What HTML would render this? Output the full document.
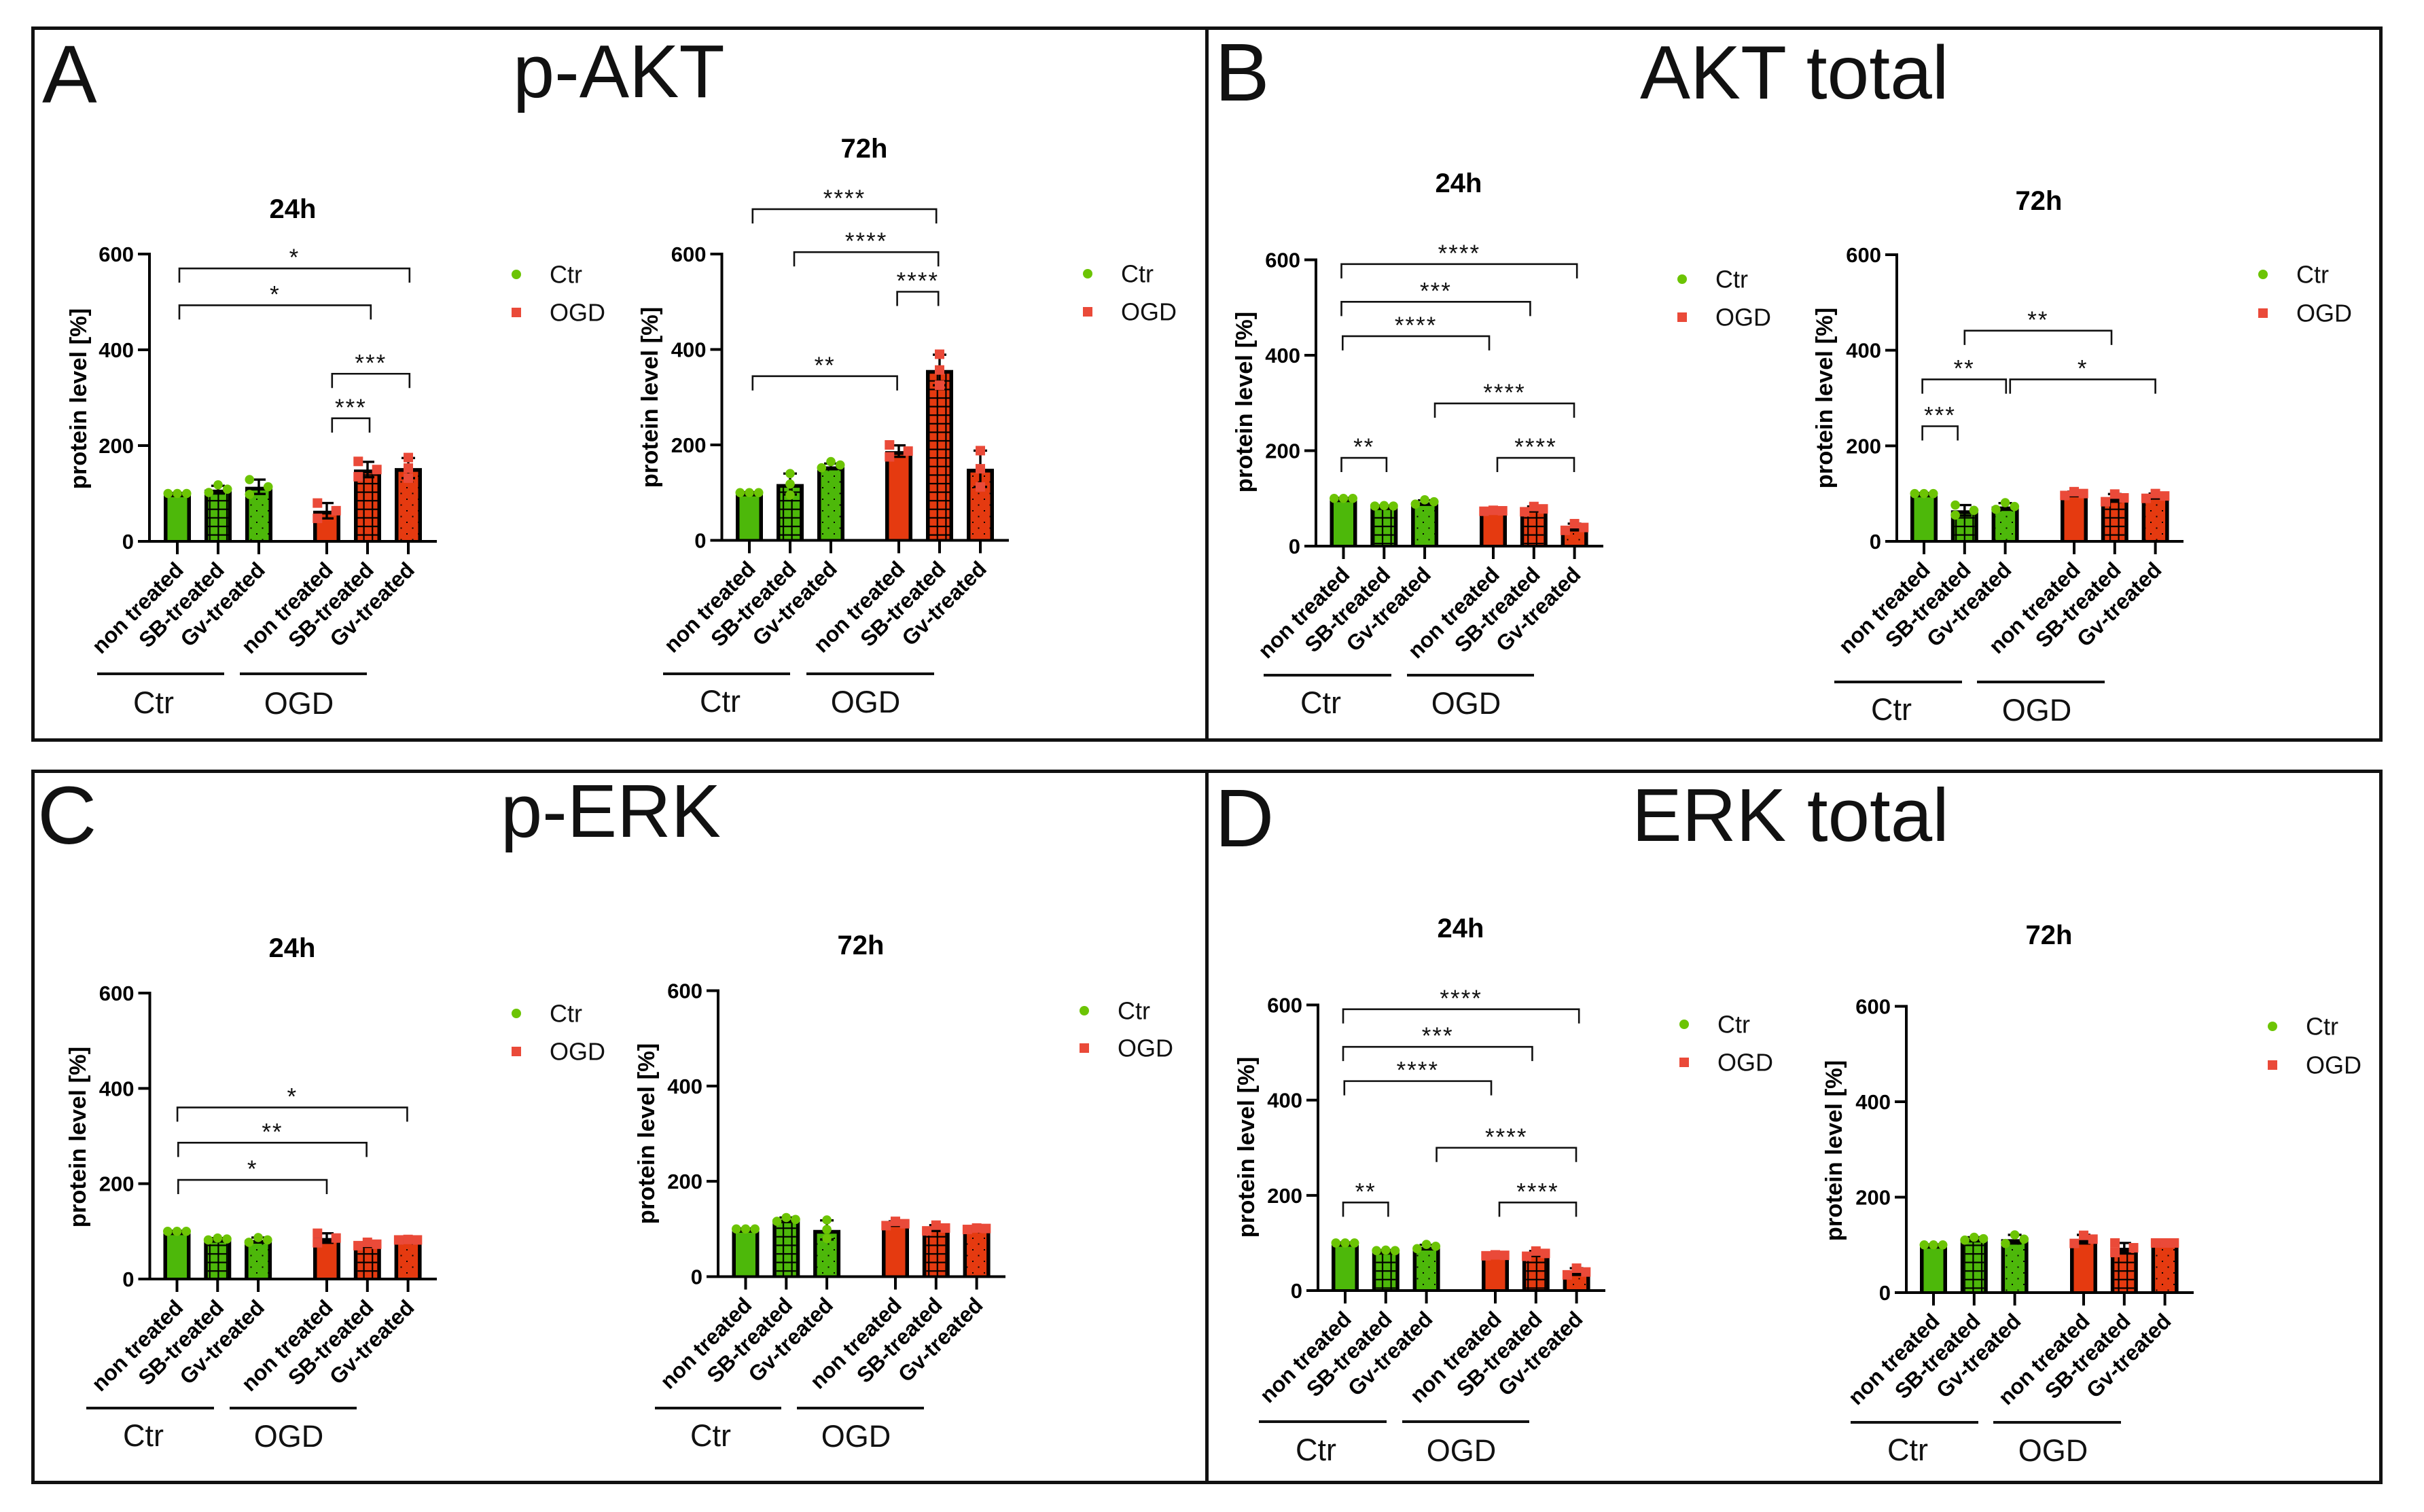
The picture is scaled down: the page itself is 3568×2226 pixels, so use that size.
<!DOCTYPE html>
<html lang="en">
<head>
<meta charset="utf-8">
<title>Protein levels: p-AKT, AKT total, p-ERK, ERK total</title>
<style>
html,body{margin:0;padding:0;background:#fff;width:3568px;height:2226px;overflow:hidden}
svg{display:block;font-family:"Liberation Sans",Arial,sans-serif}
</style>
</head>
<body>
<svg id="figure" xmlns="http://www.w3.org/2000/svg" width="3568" height="2226" viewBox="0 0 3568 2226">
  <defs>
    <pattern id="grid" patternUnits="userSpaceOnUse" width="12.6" height="12.6">
      <rect x="0" y="5.3" width="12.6" height="2.2" fill="#000"/>
      <rect x="5.3" y="0" width="2.2" height="12.6" fill="#000"/>
    </pattern>
    <pattern id="dots" patternUnits="userSpaceOnUse" width="17" height="17">
      <rect x="3" y="3" width="2" height="2" fill="#000"/>
      <rect x="11.5" y="11.5" width="2" height="2" fill="#000"/>
    </pattern>
  </defs>
  <rect width="3568" height="2226" fill="#fff"/>

  <rect x="48.5" y="41.5" width="3456" height="1048" fill="none" stroke="#111" stroke-width="5"/>
  <line x1="1776.5" y1="41" x2="1776.5" y2="1090" stroke="#111" stroke-width="5"/>
  <rect x="48.5" y="1135.5" width="3456" height="1047" fill="none" stroke="#111" stroke-width="5"/>
  <line x1="1776.5" y1="1135" x2="1776.5" y2="2183" stroke="#111" stroke-width="5"/>

  <text x="62" y="151" font-size="121" fill="#111">A</text>
  <text x="755" y="143" font-size="110" fill="#111">p-AKT</text>
  <text x="1788" y="148" font-size="121" fill="#111">B</text>
  <text x="2414" y="145" font-size="111" fill="#111">AKT total</text>
  <text x="55" y="1242" font-size="121" fill="#111">C</text>
  <text x="737" y="1232" font-size="110" fill="#111">p-ERK</text>
  <text x="1788" y="1246" font-size="121" fill="#111">D</text>
  <text x="2402" y="1238" font-size="110.5" fill="#111">ERK total</text>

  <g id="charts"></g>
</svg>

<script>
// ---- shared labels ----
const categories = ['non treated', 'SB-treated', 'Gv-treated', 'non treated', 'SB-treated', 'Gv-treated'];
const yTicks = [0, 200, 400, 600];
const legendLabels = ['Ctr', 'OGD'];
const yAxisTitle = 'protein level [%]';

// ---- p-AKT 24h ----
const pAkt24Means = [100, 108, 114, 64, 150, 153];
const pAkt24Sd = [1, 8, 15, 16, 16, 21];
const pAkt24Points = [[100, 100, 100], [102, 109, 118], [98, 114, 129], [48, 64, 80], [135, 150, 167], [132, 153, 175]];
const pAkt24Brackets = [
  {from: 0.05, to: 5.03, level: 570, label: '*'},
  {from: 0.05, to: 4.08, level: 493, label: '*'},
  {from: 3.13, to: 5.03, level: 350, label: '***'},
  {from: 3.13, to: 4.05, level: 257, label: '***'}
];

// ---- p-AKT 72h ----
const pAkt72Means = [100, 118, 155, 187, 357, 150];
const pAkt72Sd = [1, 22, 6, 12, 32, 38];
const pAkt72Points = [[100, 100, 100], [95, 118, 140], [152, 158, 165], [175, 187, 200], [325, 357, 390], [112, 150, 188]];
const pAkt72Brackets = [
  {from: 0.08, to: 3.92, level: 694, label: '****'},
  {from: 1.1, to: 3.97, level: 604, label: '****'},
  {from: 2.96, to: 3.97, level: 521, label: '****'},
  {from: 0.08, to: 2.96, level: 344, label: '**'}
];

// ---- AKT total 24h ----
const akt24Means = [100, 84, 92, 74, 78, 40];
const akt24Sd = [1, 1, 4, 1, 5, 7];
const akt24Points = [[100, 100, 100], [84, 84, 85], [88, 93, 97], [73, 74, 75], [72, 78, 83], [33, 39, 47]];
const akt24Brackets = [
  {from: -0.05, to: 5.06, level: 591, label: '****'},
  {from: -0.05, to: 3.91, level: 512, label: '***'},
  {from: -0.02, to: 2.9, level: 440, label: '****'},
  {from: 2.25, to: 4.99, level: 299, label: '****'},
  {from: 3.1, to: 4.99, level: 185, label: '****'},
  {from: -0.05, to: 1.06, level: 185, label: '**'}
];

// ---- AKT total 72h ----
const akt72Means = [100, 65, 73, 100, 91, 95];
const akt72Sd = [1, 11, 7, 4, 8, 5];
const akt72Points = [[100, 100, 100], [55, 65, 76], [67, 73, 81], [96, 100, 104], [83, 91, 99], [90, 95, 100]];
const akt72Brackets = [
  {from: 1, to: 3.92, level: 441, label: '**'},
  {from: -0.04, to: 2.02, level: 339, label: '**'},
  {from: 2.12, to: 5, level: 339, label: '*'},
  {from: -0.04, to: 0.83, level: 241, label: '***'}
];

// ---- p-ERK 24h ----
const pErk24Means = [100, 84, 82, 86, 73, 83];
const pErk24Sd = [1, 2, 5, 10, 4, 1];
const pErk24Points = [[100, 100, 100], [82, 84, 86], [77, 82, 87], [76, 86, 96], [70, 73, 77], [82, 82, 83]];
const pErk24Brackets = [
  {from: 0.01, to: 4.98, level: 360, label: '*'},
  {from: 0.03, to: 3.98, level: 286, label: '**'},
  {from: 0.03, to: 3, level: 208, label: '*'}
];

// ---- p-ERK 72h ----
const pErk72Means = [100, 120, 98, 112, 102, 101];
const pErk72Sd = [1, 4, 20, 4, 6, 1];
const pErk72Points = [[100, 100, 100], [116, 120, 124], [80, 99, 119], [107, 111, 116], [96, 102, 108], [99, 101, 102]];
const pErk72Brackets = [];

// ---- ERK total 24h ----
const erk24Means = [100, 84, 92, 74, 78, 40];
const erk24Sd = [1, 1, 4, 1, 5, 7];
const erk24Points = [[100, 100, 100], [84, 84, 85], [88, 93, 97], [73, 74, 75], [72, 78, 83], [33, 39, 47]];
const erk24Brackets = [
  {from: -0.05, to: 5.06, level: 591, label: '****'},
  {from: -0.05, to: 3.91, level: 512, label: '***'},
  {from: -0.02, to: 2.9, level: 440, label: '****'},
  {from: 2.25, to: 4.99, level: 300, label: '****'},
  {from: 3.1, to: 4.99, level: 185, label: '****'},
  {from: -0.05, to: 1.06, level: 185, label: '**'}
];

// ---- ERK total 72h ----
const erk72Means = [100, 113, 112, 112, 94, 104];
const erk72Sd = [1, 3, 9, 9, 10, 1];
const erk72Points = [[100, 100, 100], [110, 113, 116], [103, 112, 121], [103, 112, 120], [84, 94, 104], [104, 104, 104]];
const erk72Brackets = [];

const SVG_NS = 'http://www.w3.org/2000/svg';
const root = document.getElementById('charts');
const GREEN_BAR = '#4db80a', RED_BAR = '#e53a10', GREEN_DOT = '#6cc404', RED_DOT = '#ea4a39', INK = '#000';

function add(parent, tag, attrs, text) {
  const el = document.createElementNS(SVG_NS, tag);
  for (const k in attrs) el.setAttribute(k, attrs[k]);
  if (text !== undefined) el.textContent = text;
  parent.appendChild(el);
  return el;
}

// Prism-style scatter dispersion: stacked when points are far apart, else spread sideways.
function spread(values) {
  const order = values.map((v, i) => [v, i]).sort((a, b) => a[0] - b[0]);
  const gapA = order[1][0] - order[0][0], gapB = order[2][0] - order[1][0];
  const maxGap = Math.max(gapA, gapB);
  let slots;
  if (maxGap >= 20) slots = [0, 0, 0];
  else if (maxGap >= 10) slots = [-1, 1, -1];
  else slots = gapA === 0 && gapB === 0 ? [-1, 0, 1] : [-1, 1, 0];
  const out = [];
  order.forEach((o, rank) => { out[o[1]] = slots[rank]; });
  return out;
}

function drawChart(c) {
  const L = c.layout;
  const yScale = v => L.base - (v / 600) * (L.base - L.top);
  const xScale = i => i >= 2.5 ? L.ogdX + (i - 3) * L.step : L.x0 + i * L.step;

  const g = add(root, 'g', {});
  
  

  const title = add(g, 'text', {x: L.titleX, y: L.titleY, 'text-anchor': 'middle', 'font-size': 40, 'font-weight': 'bold', fill: '#000'}, c.title);
  
  

  const yTitle = add(g, 'text', {transform: 'translate(' + (L.yTitleX + 11) + ' ' + L.yTitleY + ') rotate(-90)', 'text-anchor': 'middle', 'font-size': 34.5, 'font-weight': 'bold', fill: '#000'}, yAxisTitle);
  
  

  // bars
  c.means.forEach((m, i) => {
    const cx = xScale(i), w = 40, b = 5.5, top = yScale(m);
    const col = i < 3 ? GREEN_BAR : RED_BAR;
    const outer = add(g, 'rect', {x: cx - w / 2, y: top, width: w, height: L.base - top, fill: INK});
    
    
    const innerH = Math.max(0, L.base - top - b - 1);
    const inner = add(g, 'rect', {x: cx - w / 2 + b, y: top + b, width: w - 2 * b, height: innerH, fill: col});
    
    
    const kind = i % 3;
    if (kind > 0) {
      const tex = add(g, 'rect', {x: cx - w / 2 + b, y: top + b, width: w - 2 * b, height: innerH, fill: kind === 1 ? 'url(#grid)' : 'url(#dots)'});
      
      
    }
  });

  // error bars
  c.means.forEach((m, i) => {
    const cx = xScale(i), hi = yScale(m + c.sd[i]), lo = yScale(m - c.sd[i]);
    const err = add(g, 'path', {d: 'M' + (cx - 10) + ' ' + hi + 'H' + (cx + 10) + 'M' + (cx - 10) + ' ' + lo + 'H' + (cx + 10) + 'M' + cx + ' ' + hi + 'V' + lo, fill: 'none', stroke: INK, 'stroke-width': 3.4});
    
    
  });

  // points
  c.points.forEach((vals, i) => {
    const cx = xScale(i), slots = spread(vals);
    vals.forEach((v, k) => {
      const px = cx + slots[k] * 13.7, py = yScale(v);
      if (i < 3) {
        const dot = add(g, 'circle', {cx: px, cy: py, r: 6.8, fill: GREEN_DOT});
        
        
      } else {
        const sq = add(g, 'rect', {x: px - 7, y: py - 7, width: 14, height: 14, fill: RED_DOT});
        
        
      }
    });
  });

  // axes
  const yAxis = add(g, 'line', {x1: L.axisX, y1: L.top - 2, x2: L.axisX, y2: L.base + 2, stroke: INK, 'stroke-width': 4});
  
  
  const xAxis = add(g, 'line', {x1: L.axisX - 17, y1: L.base, x2: L.xEnd, y2: L.base, stroke: INK, 'stroke-width': 4});
  
  

  yTicks.forEach(t => {
    const ty = yScale(t);
    const tick = add(g, 'line', {x1: L.axisX - 17, y1: ty, x2: L.axisX, y2: ty, stroke: INK, 'stroke-width': 4});
    
    
    const lab = add(g, 'text', {x: L.axisX - 23, y: ty + 11, 'text-anchor': 'end', 'font-size': 31, 'font-weight': 'bold', fill: '#000'}, String(t));
    
    
  });

  categories.forEach((name, i) => {
    const cx = xScale(i);
    const tick = add(g, 'line', {x1: cx, y1: L.base, x2: cx, y2: L.base + 19, stroke: INK, 'stroke-width': 4});
    
    
    const ax = cx + 11, ay = L.base + 44;
    const lab = add(g, 'text', {transform: 'translate(' + ax + ' ' + ay + ') rotate(-45)', 'text-anchor': 'end', 'font-size': 32, 'font-weight': 'bold', fill: '#000'}, name);
    
    
  });

  // group underlines + labels
  const groupRule1 = add(g, 'line', {x1: L.g1[0], y1: L.groupY, x2: L.g1[1], y2: L.groupY, stroke: '#111', 'stroke-width': 4});
  
  
  const groupRule2 = add(g, 'line', {x1: L.g2[0], y1: L.groupY, x2: L.g2[1], y2: L.groupY, stroke: '#111', 'stroke-width': 4});
  
  
  const groupLab1 = add(g, 'text', {x: L.g1Label, y: L.groupLabelY, 'text-anchor': 'middle', 'font-size': 45, fill: '#111'}, legendLabels[0]);
  
  
  const groupLab2 = add(g, 'text', {x: L.g2Label, y: L.groupLabelY + 1, 'text-anchor': 'middle', 'font-size': 45, fill: '#111'}, legendLabels[1]);
  
  

  // legend
  const dot = add(g, 'circle', {cx: L.legX, cy: L.legY1, r: 7, fill: GREEN_DOT});
  
  
  const legCtr = add(g, 'text', {x: L.legTextX, y: L.legY1 + 12.5, 'font-size': 36, fill: '#111'}, legendLabels[0]);
  
  
  const sq = add(g, 'rect', {x: L.legX - 7, y: L.legY2 - 7, width: 14, height: 14, fill: RED_DOT});
  
  
  const legOgd = add(g, 'text', {x: L.legTextX, y: L.legY2 + 12.5, 'font-size': 36, fill: '#111'}, legendLabels[1]);
  
  

  // significance brackets
  c.brackets.forEach(br => {
    const xa = xScale(br.from), xb = xScale(br.to), by = yScale(br.level);
    const path = add(g, 'path', {d: 'M' + xa + ' ' + (by + 21) + 'V' + by + 'H' + xb + 'V' + (by + 21), fill: 'none', stroke: '#111', 'stroke-width': 2.6});
    
    
    const stars = add(g, 'text', {x: (xa + xb) / 2, y: by - 4, 'text-anchor': 'middle', 'font-size': 35, 'letter-spacing': 2, fill: '#111'}, br.label);
    
    
  });
}

drawChart({name: 'p-akt-24h-chart', title: '24h', means: pAkt24Means, sd: pAkt24Sd, points: pAkt24Points, brackets: pAkt24Brackets,
  layout: {axisX: 220, base: 797, top: 374, x0: 261, ogdX: 481, step: 60, xEnd: 643, titleX: 431, titleY: 321, yTitleX: 116, yTitleY: 587,
    groupY: 992, g1: [143, 330], g2: [353, 540], g1Label: 226, g2Label: 440, groupLabelY: 1050, legX: 760, legY1: 404, legY2: 460, legTextX: 809}});
drawChart({name: 'p-akt-72h-chart', title: '72h', means: pAkt72Means, sd: pAkt72Sd, points: pAkt72Points, brackets: pAkt72Brackets,
  layout: {axisX: 1062.5, base: 795.5, top: 374, x0: 1103, ogdX: 1323, step: 60, xEnd: 1485, titleX: 1272, titleY: 232, yTitleX: 957, yTitleY: 585,
    groupY: 992, g1: [976, 1163], g2: [1187, 1375], g1Label: 1060, g2Label: 1274, groupLabelY: 1048, legX: 1601, legY1: 403, legY2: 459, legTextX: 1650}});
drawChart({name: 'akt-total-24h-chart', title: '24h', means: akt24Means, sd: akt24Sd, points: akt24Points, brackets: akt24Brackets,
  layout: {axisX: 1937, base: 804, top: 382.5, x0: 1977.5, ogdX: 2198, step: 59.8, xEnd: 2360, titleX: 2147, titleY: 283, yTitleX: 1832, yTitleY: 592,
    groupY: 994, g1: [1860, 2048], g2: [2071, 2258], g1Label: 1944, g2Label: 2158, groupLabelY: 1050, legX: 2476, legY1: 411, legY2: 467, legTextX: 2525}});
drawChart({name: 'akt-total-72h-chart', title: '72h', means: akt72Means, sd: akt72Sd, points: akt72Points, brackets: akt72Brackets,
  layout: {axisX: 2792, base: 797, top: 375, x0: 2832, ogdX: 3053, step: 59.8, xEnd: 3214, titleX: 3001, titleY: 309, yTitleX: 2686, yTitleY: 586,
    groupY: 1004, g1: [2700, 2888], g2: [2910, 3098], g1Label: 2784, g2Label: 2998, groupLabelY: 1060, legX: 3331, legY1: 404, legY2: 461, legTextX: 3380}});
drawChart({name: 'p-erk-24h-chart', title: '24h', means: pErk24Means, sd: pErk24Sd, points: pErk24Points, brackets: pErk24Brackets,
  layout: {axisX: 220.5, base: 1883, top: 1462, x0: 260.5, ogdX: 481, step: 59.8, xEnd: 643, titleX: 430, titleY: 1409, yTitleX: 115, yTitleY: 1674,
    groupY: 2073, g1: [127, 315], g2: [338, 525], g1Label: 211, g2Label: 425, groupLabelY: 2129, legX: 760, legY1: 1492, legY2: 1548, legTextX: 809}});
drawChart({name: 'p-erk-72h-chart', title: '72h', means: pErk72Means, sd: pErk72Sd, points: pErk72Points, brackets: pErk72Brackets,
  layout: {axisX: 1057, base: 1879.5, top: 1458.5, x0: 1097.5, ogdX: 1318, step: 59.8, xEnd: 1480, titleX: 1267, titleY: 1405, yTitleX: 952, yTitleY: 1669,
    groupY: 2073, g1: [964, 1150], g2: [1173, 1360], g1Label: 1046, g2Label: 1260, groupLabelY: 2129, legX: 1596, legY1: 1488, legY2: 1543, legTextX: 1645}});
drawChart({name: 'erk-total-24h-chart', title: '24h', means: erk24Means, sd: erk24Sd, points: erk24Points, brackets: erk24Brackets,
  layout: {axisX: 1940, base: 1900, top: 1479.5, x0: 1980, ogdX: 2201, step: 59.8, xEnd: 2363, titleX: 2150, titleY: 1380, yTitleX: 1835, yTitleY: 1689,
    groupY: 2093, g1: [1853, 2041], g2: [2064, 2251], g1Label: 1937, g2Label: 2151, groupLabelY: 2150, legX: 2479, legY1: 1508, legY2: 1564, legTextX: 2528}});
drawChart({name: 'erk-total-72h-chart', title: '72h', means: erk72Means, sd: erk72Sd, points: erk72Points, brackets: erk72Brackets,
  layout: {axisX: 2806, base: 1903, top: 1481.5, x0: 2846, ogdX: 3067, step: 59.8, xEnd: 3229, titleX: 3016, titleY: 1390, yTitleX: 2700, yTitleY: 1694,
    groupY: 2094, g1: [2724, 2912], g2: [2934, 3122], g1Label: 2808, g2Label: 3022, groupLabelY: 2150, legX: 3345, legY1: 1511, legY2: 1568, legTextX: 3394}});
</script>
</body>
</html>
